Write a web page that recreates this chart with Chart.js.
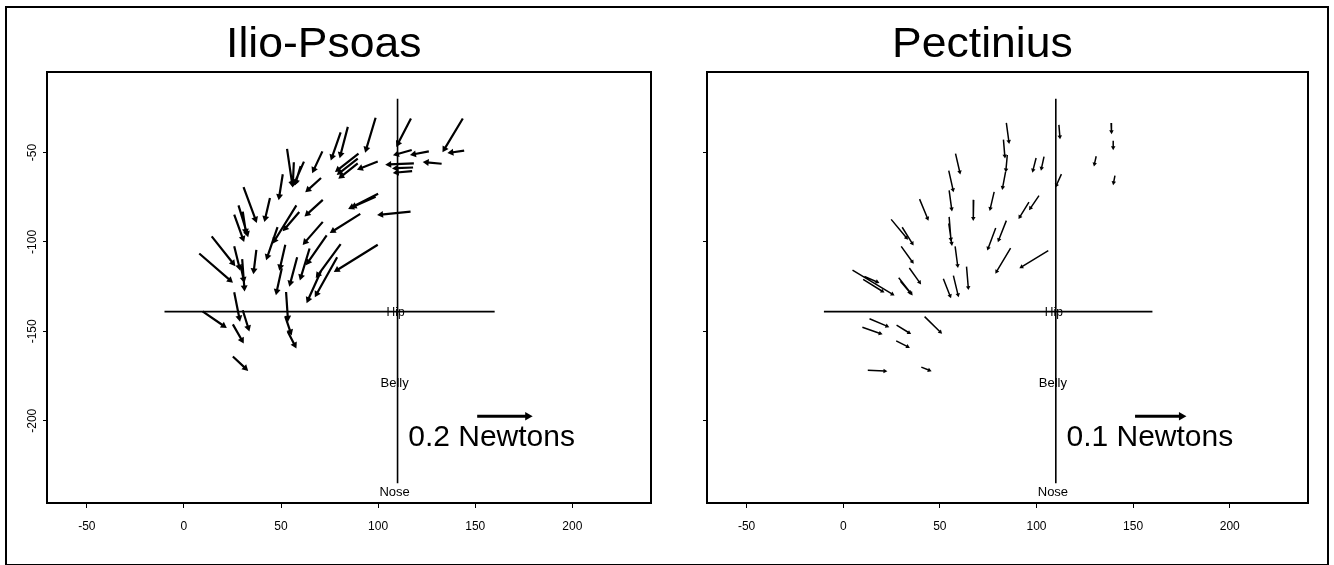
<!DOCTYPE html>
<html>
<head>
<meta charset="utf-8">
<script src="https://cdn.jsdelivr.net/npm/chart.js@4.4.1/dist/chart.umd.min.js"></script>
<style>
  html, body { margin: 0; padding: 0; background: #fff; }
  #page { position: relative; width: 1334px; height: 565px; overflow: hidden; }
  #frame { position: absolute; left: 5px; top: 6px; width: 1320px; height: 556px; border: 2px solid #000; }
  canvas { position: absolute; top: 0; }
</style>
</head>
<body>
<div id="page">
  <div id="frame"></div>
  <canvas id="psoas" width="667" height="565" style="left:0"></canvas>
  <canvas id="pect" width="667" height="565" style="left:667px"></canvas>
</div>
<script>
// axis ticks (same for both panels)
const xTicks = [-50, 0, 50, 100, 150, 200];
const yTicks = [-200, -150, -100, -50];

// reference lines through the hip
const hipLineX = [-10, 160];
const hipLineY = -139;
const bodyLineX = 110;
const bodyLineY = [-20, -235];

// Ilio-Psoas force vectors: tail -> head
const psoasTailX = [98.7, 116.9, 143.6, 84.4, 80.7, 144.3, 126.1, 117.3, 132.7, 118.4,
  118.0, 117.5, 99.8, 89.9, 89.5, 89.5, 71.3, 53.1, 56.6, 61.8,
  60.1, 70.6, 50.9, 100.0, 98.7, 44.3, 30.7, 71.5, 25.9, 28.1,
  30.3, 57.9, 59.4, 90.8, 99.8, 71.5, 73.5, 80.7, 78.9, 70.6,
  64.7, 58.3, 52.2, 50.4, 37.3, 25.9, 7.9, 14.3, 30.0, 29.2,
  25.9, 30.3, 9.6, 25.2, 25.2, 52.6, 52.2, 53.5, 48.2, 116.7];
const psoasTailY = [-30.6, -31.0, -31.0, -35.7, -38.8, -49.0, -49.4, -48.6, -56.3, -56.1,
  -58.4, -60.4, -55.1, -50.6, -53.5, -56.1, -49.4, -48.0, -55.5, -55.1,
  -57.6, -64.3, -62.2, -73.1, -74.7, -75.5, -69.4, -76.5, -84.7, -79.6,
  -83.1, -79.6, -83.3, -84.3, -101.6, -88.8, -96.3, -101.2, -108.6, -116.3,
  -103.7, -108.6, -101.6, -114.7, -104.5, -102.4, -106.5, -96.9, -109.6, -113.3,
  -128.2, -138.2, -138.8, -146.1, -164.1, -128.0, -141.8, -150.2, -91.8, -83.1];
const psoasHeadX = [93.9, 110.3, 134.2, 80.7, 76.3, 137.7, 118.4, 109.6, 125.0, 105.7,
  109.2, 109.6, 91.0, 79.4, 80.3, 81.1, 66.9, 55.7, 56.1, 57.0,
  57.7, 64.0, 49.1, 86.4, 87.7, 41.9, 36.8, 63.6, 30.3, 32.5,
  31.8, 46.7, 52.2, 76.8, 78.9, 62.5, 64.0, 69.1, 68.4, 64.0,
  60.3, 54.8, 49.6, 47.8, 36.0, 28.5, 23.7, 25.2, 31.1, 30.7,
  28.5, 33.1, 20.4, 29.8, 31.6, 53.5, 54.8, 57.0, 43.0, 101.5];
const psoasHeadY = [-48.0, -44.9, -48.0, -51.0, -52.4, -50.0, -51.0, -51.0, -55.5, -56.7,
  -58.8, -61.2, -58.8, -59.6, -61.2, -63.3, -59.6, -67.3, -67.3, -66.9,
  -66.3, -70.8, -74.5, -80.6, -80.0, -86.7, -87.3, -84.3, -98.0, -95.3,
  -93.9, -99.2, -92.4, -93.9, -115.7, -100.0, -111.2, -118.4, -129.0, -132.2,
  -119.4, -122.9, -113.9, -127.6, -115.9, -113.9, -121.4, -111.8, -125.5, -120.8,
  -142.4, -148.0, -146.9, -154.9, -170.6, -142.4, -150.2, -157.6, -108.2, -84.7];

// Pectinius force vectors: tail -> head
const pectTailX = [84.4, 111.6, 138.6, 82.9, 84.9, 139.7, 58.1, 99.8, 103.9, 130.9,
  84.0, 112.9, 140.6, 54.6, 54.8, 78.1, 101.3, 96.1, 39.5, 67.5,
  54.8, 84.4, 78.9, 24.8, 30.5, 30.0, 57.9, 86.6, 106.1, 34.2,
  4.8, 10.3, 11.0, 28.7, 29.6, 51.8, 57.0, 63.8, 54.6, 13.6,
  9.9, 27.6, 42.1, 27.4, 12.7, 40.4];
const pectTailY = [-33.5, -34.6, -33.5, -42.8, -51.4, -43.4, -50.6, -53.1, -52.3, -52.1,
  -60.9, -62.1, -63.0, -60.1, -71.2, -72.0, -74.1, -77.8, -76.1, -76.5,
  -86.0, -88.1, -92.2, -87.4, -91.8, -102.5, -102.5, -103.5, -104.9, -114.6,
  -115.8, -121.0, -119.3, -120.0, -122.0, -120.6, -118.9, -113.8, -89.7, -143.0,
  -147.7, -146.5, -141.8, -155.3, -171.8, -170.0];
const pectHeadX = [85.7, 112.1, 138.8, 83.6, 84.2, 139.7, 60.3, 98.2, 102.6, 130.0,
  82.5, 110.3, 139.9, 56.8, 56.1, 76.1, 96.9, 91.4, 43.6, 67.3,
  55.7, 80.5, 75.0, 32.7, 35.7, 35.7, 59.2, 79.4, 92.3, 39.5,
  25.4, 20.2, 17.5, 35.1, 34.4, 55.3, 59.4, 64.7, 56.1, 22.6,
  19.1, 34.0, 50.2, 33.3, 21.5, 44.5];
const pectHeadY = [-43.8, -41.2, -38.3, -51.9, -59.7, -47.3, -60.9, -59.9, -58.8, -56.4,
  -69.5, -68.3, -66.9, -70.8, -81.5, -81.3, -81.1, -86.0, -86.8, -86.8,
  -98.4, -98.8, -103.5, -97.7, -100.8, -111.1, -113.2, -116.5, -114.0, -122.6,
  -129.2, -127.6, -122.4, -128.8, -128.2, -130.2, -129.6, -125.5, -100.8, -147.1,
  -151.2, -150.8, -150.4, -158.6, -172.2, -171.8];

// scale arrows
const psoasScaleX = [151, 177];
const pectScaleX = [151, 175];
const scaleArrowY = -197.5;

const FONT = '"Liberation Sans", Arial, Helvetica, sans-serif';

const panelText = {
  id: 'panelText',
  afterDraw(chart, args, o) {
    const { ctx, chartArea: a, scales: { x, y } } = chart;
    ctx.save();
    ctx.strokeStyle = '#000';
    ctx.lineWidth = 2;
    ctx.strokeRect(a.left, a.top, a.right - a.left, a.bottom - a.top);
    ctx.fillStyle = '#000';

    // title, a little wider than the plain font
    ctx.save();
    ctx.textAlign = 'center';
    ctx.textBaseline = 'alphabetic';
    ctx.font = '42px ' + FONT;
    ctx.translate(x.getPixelForValue(72), a.top - 15);
    ctx.scale(1.06, 1);
    ctx.fillText(o.title, 0, 0);
    ctx.restore();

    ctx.textAlign = 'center';
    if (o.yLabels) {
      ctx.font = '12px ' + FONT;
      ctx.textBaseline = 'middle';
      yTicks.forEach(v => {
        ctx.save();
        ctx.translate(a.left - 14, y.getPixelForValue(v));
        ctx.rotate(-Math.PI / 2);
        ctx.fillText(String(v), 0, 0);
        ctx.restore();
      });
    }

    ctx.textBaseline = 'middle';
    ctx.font = '12px ' + FONT;
    ctx.fillText('Hip', x.getPixelForValue(bodyLineX) - 2, y.getPixelForValue(hipLineY) + 1);
    ctx.font = '13px ' + FONT;
    ctx.fillText('Belly', x.getPixelForValue(108.5), y.getPixelForValue(-179));
    ctx.fillText('Nose', x.getPixelForValue(108.5), y.getPixelForValue(-240));

    ctx.textAlign = 'left';
    ctx.font = '30px ' + FONT;
    ctx.fillText(o.scaleText, x.getPixelForValue(115.5), y.getPixelForValue(-209.5));
    ctx.restore();
  }
};

function headRotation(tx, ty, hx, hy) {
  return c => {
    const xs = c.chart.scales.x, ys = c.chart.scales.y, i = c.dataIndex;
    const dx = xs.getPixelForValue(hx[i]) - xs.getPixelForValue(tx[i]);
    const dy = ys.getPixelForValue(hy[i]) - ys.getPixelForValue(ty[i]);
    return Math.atan2(dx, -dy) * 180 / Math.PI;
  };
}

function drawPanel(id, p) {
  const shafts = [];
  p.tailX.forEach((x, i) => {
    shafts.push({ x, y: p.tailY[i] }, { x: p.headX[i], y: p.headY[i] }, { x: null, y: null });
  });
  const heads = p.headX.map((x, i) => ({ x, y: p.headY[i] }));
  const cross = [
    { x: hipLineX[0], y: hipLineY }, { x: hipLineX[1], y: hipLineY }, { x: null, y: null },
    { x: bodyLineX, y: bodyLineY[0] }, { x: bodyLineX, y: bodyLineY[1] }
  ];

  new Chart(document.getElementById(id), {
    type: 'scatter',
    data: {
      datasets: [
        { data: cross, showLine: true, spanGaps: false, borderColor: '#000', borderWidth: 1.6, pointRadius: 0 },
        { data: shafts, showLine: true, spanGaps: false, borderColor: '#000', borderWidth: p.lineWidth, pointRadius: 0 },
        {
          data: heads, pointStyle: 'triangle', pointRadius: p.headSize, pointBackgroundColor: '#000',
          pointBorderColor: '#000', pointBorderWidth: 0,
          pointRotation: headRotation(p.tailX, p.tailY, p.headX, p.headY)
        },
        {
          data: p.scaleX.map(x => ({ x, y: scaleArrowY })), showLine: true, borderColor: '#000',
          borderWidth: 3, pointRadius: [0, 5], pointStyle: 'triangle', pointRotation: 90,
          pointBackgroundColor: '#000', pointBorderWidth: 0
        }
      ]
    },
    options: {
      responsive: false,
      animation: false,
      devicePixelRatio: 1,
      layout: { padding: p.padding },
      plugins: {
        legend: { display: false },
        tooltip: { enabled: false },
        panelText: { title: p.title, scaleText: p.scaleText, yLabels: p.yLabels }
      },
      scales: {
        x: {
          type: 'linear', min: -70.5, max: 240.5,
          afterBuildTicks: s => { s.ticks = xTicks.map(v => ({ value: v })); },
          afterFit: s => { s.height = 40; },
          ticks: { color: '#000', font: { family: FONT, size: 12 }, padding: 11 },
          grid: { drawOnChartArea: false, drawTicks: true, tickLength: 5, color: '#000', lineWidth: 1 },
          border: { display: true, color: '#000', width: 2 }
        },
        y: {
          type: 'linear', min: -246, max: -5,
          afterBuildTicks: s => { s.ticks = yTicks.map(v => ({ value: v })); },
          afterFit: s => { s.width = 30; },
          ticks: { display: false },
          grid: { drawOnChartArea: false, drawTicks: true, tickLength: 4, color: '#000', lineWidth: 1 },
          border: { display: true, color: '#000', width: 2 }
        }
      }
    },
    plugins: [panelText]
  });
}

drawPanel('psoas', {
  title: 'Ilio-Psoas', scaleText: '0.2 Newtons', yLabels: true,
  tailX: psoasTailX, tailY: psoasTailY, headX: psoasHeadX, headY: psoasHeadY,
  scaleX: psoasScaleX, lineWidth: 2.2, headSize: 4,
  padding: { left: 17, right: 16, top: 72, bottom: 22 }
});

drawPanel('pect', {
  title: 'Pectinius', scaleText: '0.1 Newtons', yLabels: false,
  tailX: pectTailX, tailY: pectTailY, headX: pectHeadX, headY: pectHeadY,
  scaleX: pectScaleX, lineWidth: 1.5, headSize: 2.6,
  padding: { left: 10, right: 26, top: 72, bottom: 22 }
});
</script>
</body>
</html>
